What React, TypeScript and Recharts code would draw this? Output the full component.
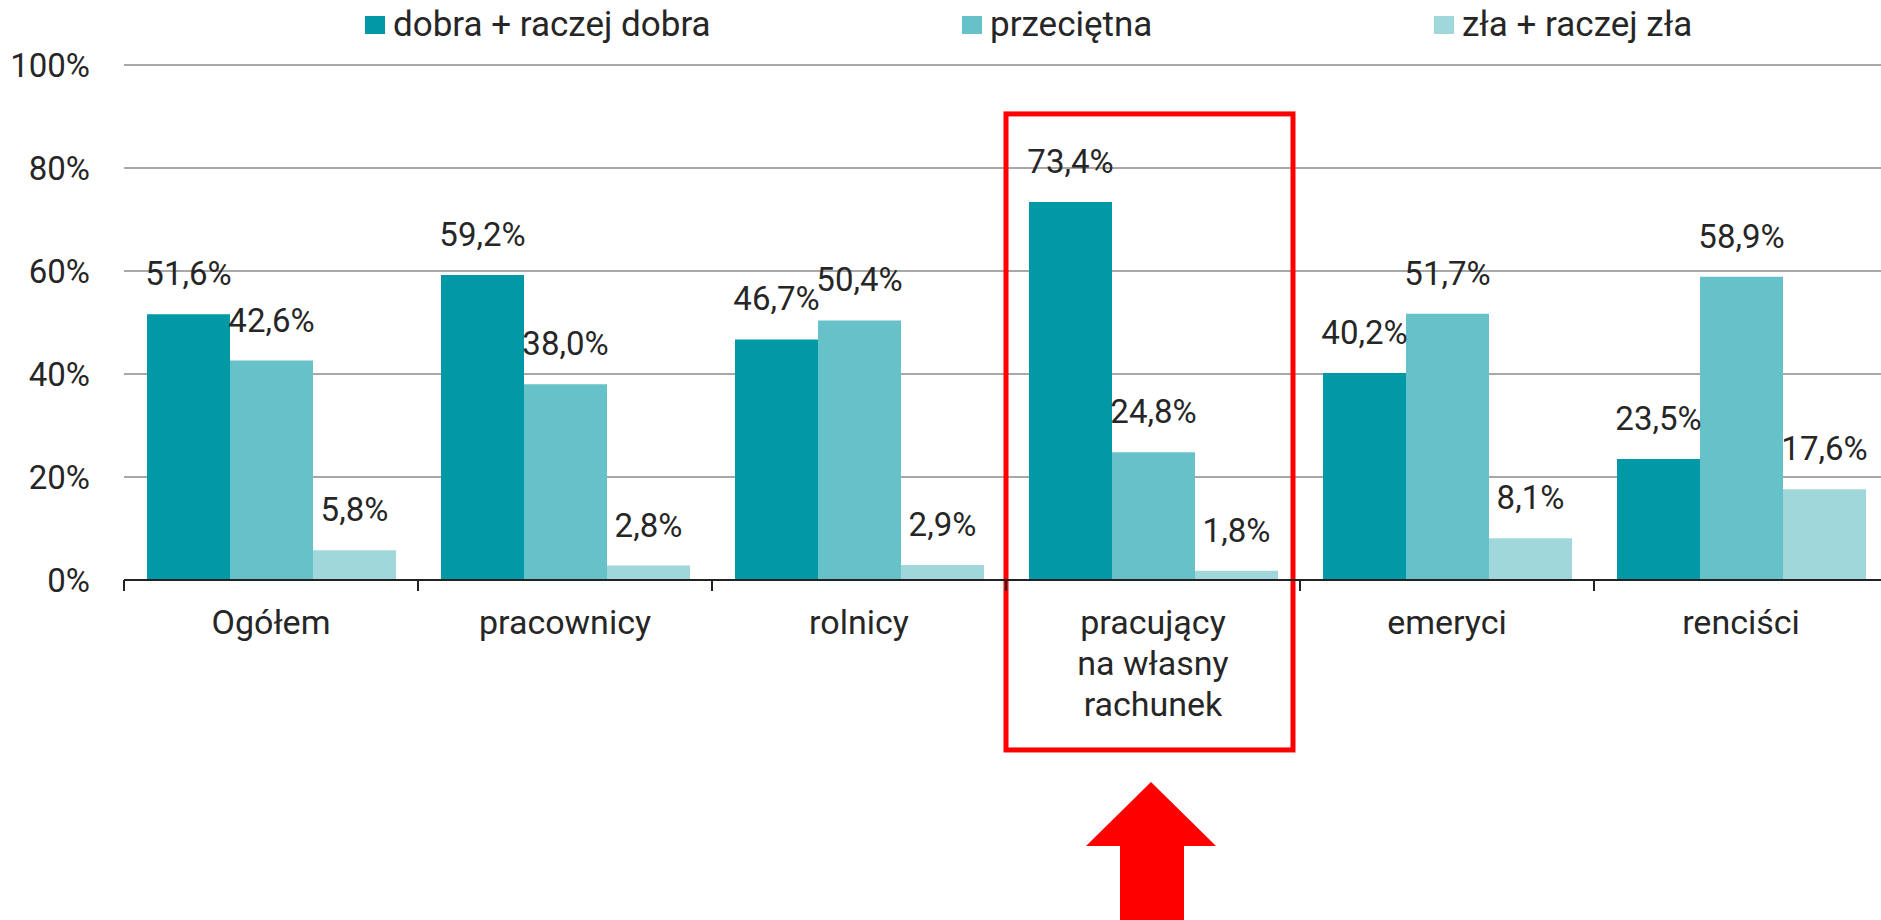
import { BarChart, Bar, XAxis, YAxis, CartesianGrid, LabelList, Legend, ReferenceArea } from 'recharts'

const categories = ['Ogółem', 'pracownicy', 'rolnicy', 'pracujący\nna własny\nrachunek', 'emeryci', 'renciści']
const dobra = [51.6, 59.2, 46.7, 73.4, 40.2, 23.5]
const przecietna = [42.6, 38.0, 50.4, 24.8, 51.7, 58.9]
const zla = [5.8, 2.8, 2.9, 1.8, 8.1, 17.6]
const yTicks = [0, 20, 40, 60, 80, 100]
const seriesNames = ['dobra + raczej dobra', 'przeciętna', 'zła + raczej zła']
const highlighted = 'pracujący\nna własny\nrachunek'

const COLORS = ['#0099a5', '#67c1c9', '#9fd7da']
const FONT = "Roboto, 'Noto Sans', sans-serif"
const TEXT = '#262626'

const W = 1890
const H = 920
const LEFT = 124
const RIGHT = 2
const BAND = (W - LEFT - RIGHT) / categories.length

const data = categories.map((c, i) => ({
  name: c,
  dobra: dobra[i],
  przecietna: przecietna[i],
  zla: zla[i],
}))

const fmt = (v: any) => `${Number(v).toFixed(1).replace('.', ',')}%`

function CategoryTick(props: any) {
  const { x, y, payload } = props
  const lines = String(payload.value).split('\n')
  const half = BAND / 2
  return (
    <g>
      <line x1={x - half} y1={y} x2={x - half} y2={y + 11} stroke="#222" strokeWidth={2} />
      <text x={x} y={y + 54} textAnchor="middle" fill={TEXT} fontSize={34} fontFamily={FONT}>
        {lines.map((l, i) => (
          <tspan key={i} x={x} dy={i === 0 ? 0 : 41}>
            {l}
          </tspan>
        ))}
      </text>
    </g>
  )
}

// highlight frame, slightly inset on the right like the original
function HighlightBox(props: any) {
  const { x, y, width, height } = props
  return <rect x={x} y={y} width={width - 7} height={height} fill="none" stroke="#ff0000" strokeWidth={5} />
}

const legendLeft = [365, 962, 1434]

function LegendContent() {
  return (
    <div style={{ position: 'relative', width: 1881, height: 44 }}>
      {seriesNames.map((n, i) => (
        <div
          key={n}
          style={{ position: 'absolute', left: legendLeft[i], top: 0, height: 50, display: 'flex', alignItems: 'center' }}
        >
          <span style={{ display: 'inline-block', width: 20, height: 18, background: COLORS[i], marginRight: 8 }} />
          <span style={{ fontSize: 35, color: TEXT, fontFamily: FONT, lineHeight: '50px' }}>{n}</span>
        </div>
      ))}
    </div>
  )
}

export default function App() {
  return (
    <div style={{ position: 'absolute', left: 0, top: 0, width: 1881, height: H, overflow: 'hidden', background: '#fff' }}>
      <BarChart
        width={W}
        height={H}
        data={data}
        margin={{ top: 21, right: RIGHT, left: 0, bottom: 0 }}
        barCategoryGap={23}
        barGap={0}
      >
        <Legend verticalAlign="top" content={<LegendContent />} wrapperStyle={{ top: 0, left: 0, width: 1881, height: 44 }} />
        <CartesianGrid vertical={false} stroke="#a8a8a8" strokeWidth={2} />
        <YAxis
          width={LEFT}
          domain={[0, 100]}
          ticks={yTicks}
          tickFormatter={(v) => `${v}%`}
          axisLine={false}
          tickLine={false}
          tickSize={0}
          tickMargin={34}
          tick={{ fill: TEXT, fontSize: 33, fontFamily: FONT }}
        />
        <XAxis
          dataKey="name"
          height={H - 580}
          interval={0}
          tickLine={false}
          tickSize={0}
          tickMargin={0}
          axisLine={{ stroke: '#222', strokeWidth: 2 }}
          tick={<CategoryTick />}
        />
        <Bar dataKey="dobra" name={seriesNames[0]} fill={COLORS[0]} isAnimationActive={false}>
          <LabelList dataKey="dobra" position="top" offset={29} formatter={fmt} fill={TEXT} fontSize={33} fontFamily={FONT} />
        </Bar>
        <Bar dataKey="przecietna" name={seriesNames[1]} fill={COLORS[1]} isAnimationActive={false}>
          <LabelList dataKey="przecietna" position="top" offset={29} formatter={fmt} fill={TEXT} fontSize={33} fontFamily={FONT} />
        </Bar>
        <Bar dataKey="zla" name={seriesNames[2]} fill={COLORS[2]} isAnimationActive={false}>
          <LabelList dataKey="zla" position="top" offset={29} formatter={fmt} fill={TEXT} fontSize={33} fontFamily={FONT} />
        </Bar>
        <ReferenceArea
          x1={highlighted}
          x2={highlighted}
          y1={-33}
          y2={90.5}
          ifOverflow="visible"
          shape={<HighlightBox />}
        />
      </BarChart>
      <svg width={1881} height={H} style={{ position: 'absolute', left: 0, top: 0, pointerEvents: 'none' }}>
        <polygon points="1151,782 1216,846 1184,846 1184,920 1120,920 1120,846 1086,846" fill="#ff0000" />
      </svg>
    </div>
  )
}
